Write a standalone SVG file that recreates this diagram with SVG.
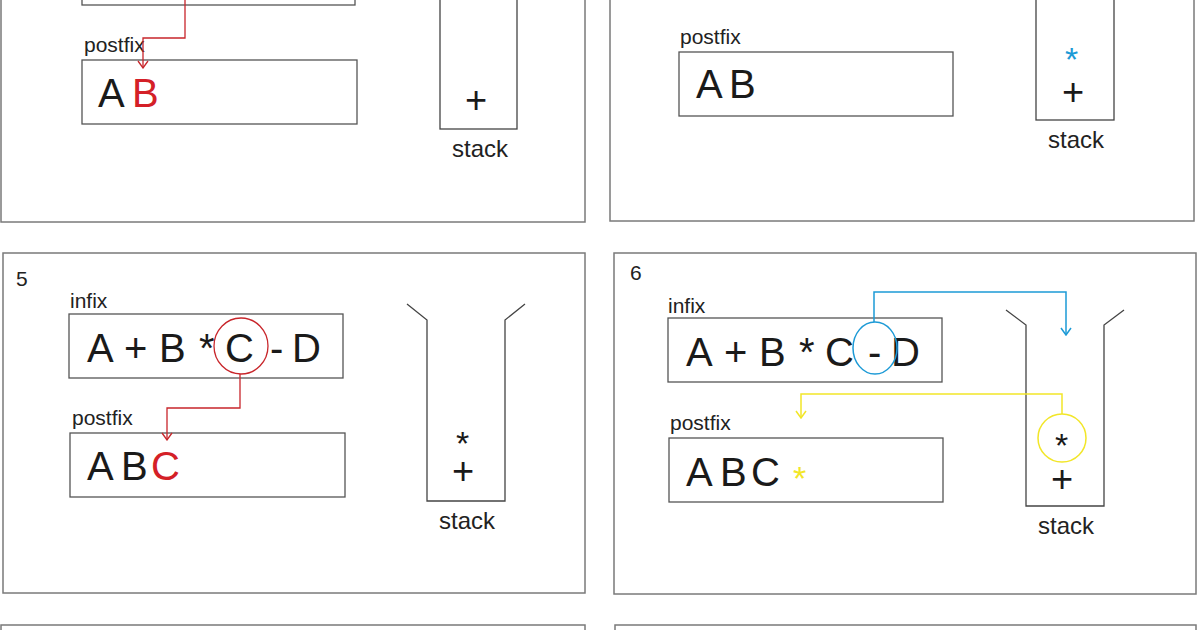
<svg xmlns="http://www.w3.org/2000/svg" width="1200" height="630" viewBox="0 0 1200 630">
<style>
.panel{fill:none;stroke:#7a7a7a;stroke-width:1.5}
.box{fill:none;stroke:#555;stroke-width:1.3}
.stk{fill:none;stroke:#444;stroke-width:1.3}
.lbl{font-family:"Liberation Sans",Arial,sans-serif;font-size:21px;fill:#222}
.big{font-family:"Liberation Sans",Arial,sans-serif;font-size:40px;fill:#1a1a1a}
.op{font-family:"Liberation Sans",Arial,sans-serif;font-size:38px;fill:#1a1a1a}
.ast{font-family:"Liberation Sans",Arial,sans-serif;font-size:34px;fill:#1a1a1a}
.stxt{font-family:"Liberation Sans",Arial,sans-serif;font-size:24px;fill:#222}
.red{fill:#d42027}
.blue{fill:#1c9ad6}
.yel{fill:#f2e628}
</style>
<defs>
<marker id="arR" viewBox="0 0 12 12" refX="6" refY="11" markerWidth="12" markerHeight="12" markerUnits="userSpaceOnUse" orient="0">
<path d="M1,4 L6,11 L11,4" fill="none" stroke="#c8262b" stroke-width="1.3"/>
</marker>
<marker id="arB" viewBox="0 0 12 12" refX="6" refY="11" markerWidth="12" markerHeight="12" markerUnits="userSpaceOnUse" orient="0">
<path d="M1,4 L6,11 L11,4" fill="none" stroke="#1c9ad6" stroke-width="1.5"/>
</marker>
<marker id="arY" viewBox="0 0 12 12" refX="6" refY="11" markerWidth="12" markerHeight="12" markerUnits="userSpaceOnUse" orient="0">
<path d="M1,4 L6,11 L11,4" fill="none" stroke="#f2e628" stroke-width="1.5"/>
</marker>
</defs>
<rect width="1200" height="630" fill="#fff"/>

<!-- panel 3 (top-left) -->
<g id="panel3">
<rect class="panel" x="1" y="-10" width="584" height="232"/>
<rect class="box" x="82" y="-60" width="273" height="65"/>
<text class="lbl" x="84" y="52">postfix</text>
<rect class="box" x="82" y="60" width="275" height="64"/>
<text class="big" x="98" y="107">A</text>
<text class="big red" x="132" y="107">B</text>
<rect class="stk" x="440" y="-10" width="77" height="139"/>
<text class="op" x="465" y="113">+</text>
<text class="stxt" x="452" y="157">stack</text>
</g>

<!-- panel 4 (top-right) -->
<g id="panel4">
<rect class="panel" x="610" y="-10" width="584" height="231"/>
<text class="lbl" x="680" y="44">postfix</text>
<rect class="box" x="679" y="52" width="274" height="64"/>
<text class="big" y="98"><tspan x="696">A</tspan><tspan x="729">B</tspan></text>
<rect class="stk" x="1036" y="-10" width="78" height="130"/>
<text class="ast blue" x="1065" y="71">*</text>
<text class="op" x="1062" y="105">+</text>
<text class="stxt" x="1048" y="148">stack</text>
</g>

<!-- panel 5 -->
<g id="panel5">
<rect class="panel" x="3" y="253" width="582" height="340"/>
<text class="lbl" x="16" y="286">5</text>
<text class="lbl" x="70" y="308">infix</text>
<rect class="box" x="69" y="314" width="274" height="64"/>
<text class="big" y="362"><tspan x="87">A</tspan><tspan x="124">+</tspan><tspan x="159">B</tspan><tspan x="199">*</tspan><tspan x="225">C</tspan><tspan x="270">-</tspan><tspan x="292">D</tspan></text>
<text class="lbl" x="72" y="425">postfix</text>
<rect class="box" x="70" y="433" width="275" height="64"/>
<text class="big" y="480"><tspan x="87">A</tspan><tspan x="121">B</tspan><tspan x="151" class="red">C</tspan></text>
<path class="stk" d="M407,304 L427,320 L427,501 L505,501 L505,320 L525,304"/>
<text class="ast" x="456" y="455">*</text>
<text class="op" x="452" y="484">+</text>
<text class="stxt" x="439" y="529">stack</text>
</g>

<!-- panel 6 -->
<g id="panel6">
<rect class="panel" x="614" y="253" width="582" height="341"/>
<text class="lbl" x="630" y="280">6</text>
<text class="lbl" x="668" y="313">infix</text>
<rect class="box" x="668" y="318" width="274" height="64"/>
<text class="big" y="366"><tspan x="686">A</tspan><tspan x="724">+</tspan><tspan x="759">B</tspan><tspan x="799">*</tspan><tspan x="825">C</tspan><tspan x="868">-</tspan><tspan x="891">D</tspan></text>
<text class="lbl" x="670" y="430">postfix</text>
<rect class="box" x="669" y="438" width="274" height="64"/>
<text class="big" y="486"><tspan x="686">A</tspan><tspan x="720">B</tspan><tspan x="751">C</tspan></text>
<text class="ast yel" x="793" y="490">*</text>
<path class="stk" d="M1006,310 L1026,325 L1026,506 L1104,506 L1104,325 L1124,310"/>
<text class="ast" x="1055" y="457">*</text>
<text class="op" x="1051" y="492">+</text>
<text class="stxt" x="1038" y="534">stack</text>
</g>

<!-- bottom panels (cut off) -->
<g id="panel7"><rect class="panel" x="1" y="625" width="584" height="20"/></g>
<g id="panel8"><rect class="panel" x="615" y="625" width="581" height="20"/></g>

<g id="connectors">
<path d="M185,-5 L185,38 L143,38 L143,68" fill="none" stroke="#c8262b" stroke-width="1.3" marker-end="url(#arR)"/>
<ellipse cx="241" cy="346" rx="27" ry="28" fill="none" stroke="#c8262b" stroke-width="1.3"/>
<path d="M240,374 L240,408 L167,408 L167,440" fill="none" stroke="#c8262b" stroke-width="1.3" marker-end="url(#arR)"/>
<ellipse cx="875" cy="348" rx="22" ry="26" fill="none" stroke="#1c9ad6" stroke-width="1.5"/>
<path d="M874,322 L874,292 L1066,292 L1066,335" fill="none" stroke="#1c9ad6" stroke-width="1.5" marker-end="url(#arB)"/>
<ellipse cx="1062" cy="438" rx="24" ry="24" fill="none" stroke="#f2e628" stroke-width="1.5"/>
<path d="M1062,414 L1062,394 L801,394 L801,418" fill="none" stroke="#f2e628" stroke-width="1.5" marker-end="url(#arY)"/>
</g>
</svg>
